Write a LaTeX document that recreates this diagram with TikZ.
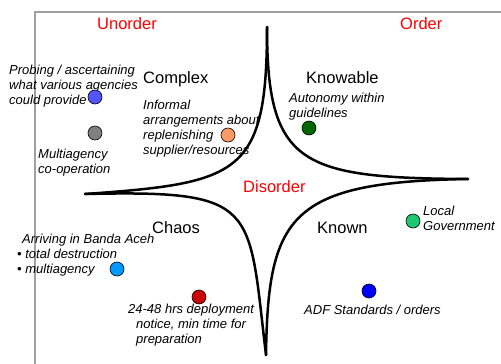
\documentclass[tikz,border=0pt]{standalone}
\usepackage{fontspec}
\setmainfont{Liberation Sans}
\definecolor{dotperi}{RGB}{85,85,255}
\definecolor{dotgray}{RGB}{128,128,128}
\definecolor{dotorange}{RGB}{255,153,102}
\definecolor{dotdkgreen}{RGB}{0,102,0}
\definecolor{dotltblue}{RGB}{0,153,255}
\definecolor{dotred}{RGB}{204,0,0}
\definecolor{dotgreen}{RGB}{30,200,110}
\definecolor{dotblue}{RGB}{0,0,255}
\definecolor{framegray}{RGB}{160,160,160}
\begin{document}
\begin{tikzpicture}[x=1pt,y=-1pt,
  lbl/.style={font=\fontsize{16.5}{19}\selectfont, inner sep=0, anchor=base west},
  zone/.style={lbl, text=red},
  note/.style={font=\fontsize{13}{15}\selectfont\itshape, inner sep=0, align=left, anchor=north west},
  dot/.style={circle, draw=black, line width=0.6pt, minimum size=14pt, inner sep=0},
  curve/.style={line width=2.5pt, line cap=round},
  frame/.style={draw=framegray, line width=1.4pt}]
\useasboundingbox (0,0) rectangle (501,364);
% frame
\coordinate (fr) at (501,12);
\coordinate (fc) at (35,12);
\coordinate (fb) at (35,364);
\draw[frame] (fr) -- (fc) -- (fb);
% cusps
\coordinate (top) at (267,27);
\coordinate (left) at (85,194);
\coordinate (right) at (468,179);
\coordinate (bottom) at (266,355);
\draw[curve] (top) .. controls (267,175) and (240,183) .. (left);
\draw[curve] (top) .. controls (267,165) and (300,178) .. (right);
\draw[curve] (right) .. controls (290,182) and (268,215) .. (bottom);
\draw[curve] (left) .. controls (260,190) and (248,205) .. (bottom);
% zone labels
\node[zone] (unorder) at (97,30) {Unorder};
\node[zone] (order) at (400,30) {Order};
\node[zone] (disorder) at (243,192) {Disorder};
\node[lbl] (complex) at (143,83) {Complex};
\node[lbl] (knowable) at (306,83) {Knowable};
\node[lbl] (chaos) at (152,233) {Chaos};
\node[lbl] (known) at (317,233) {Known};
% notes
\node[note] (probe) at (9,64.5) {Probing / ascertaining\\what various agencies\\could provide};
\node[note] (multi) at (38,148.5) {Multiagency\\co-operation};
\node[note] (informal) at (143,99.5) {Informal\\arrangements about\\replenishing\\supplier/resources};
\node[note] (autonomy) at (289,92.5) {Autonomy within\\guidelines};
\node[note] (arriving) at (17,233.5) {\hspace*{5pt}Arriving in Banda Aceh\\• total destruction\\• multiagency};
\node[note] (deploy) at (128,303.5) {24-48 hrs deployment\\\hspace*{8pt}notice, min time for\\\hspace*{8pt}preparation};
\node[note] (local) at (423,206) {Local\\Government};
\node[lbl, font=\fontsize{13}{15}\selectfont\itshape] (adf) at (304,314) {ADF Standards / orders};
% dots
\node[dot, fill=dotperi] (d1) at (95,97) {};
\node[dot, fill=dotgray] (d2) at (95,133) {};
\node[dot, fill=dotorange] (d3) at (228,135) {};
\node[dot, fill=dotdkgreen] (d4) at (309,128) {};
\node[dot, fill=dotltblue] (d5) at (117,269) {};
\node[dot, fill=dotred] (d6) at (199,297) {};
\node[dot, fill=dotgreen] (d7) at (413,221) {};
\node[dot, fill=dotblue] (d8) at (369,291) {};
\end{tikzpicture}
\end{document}
